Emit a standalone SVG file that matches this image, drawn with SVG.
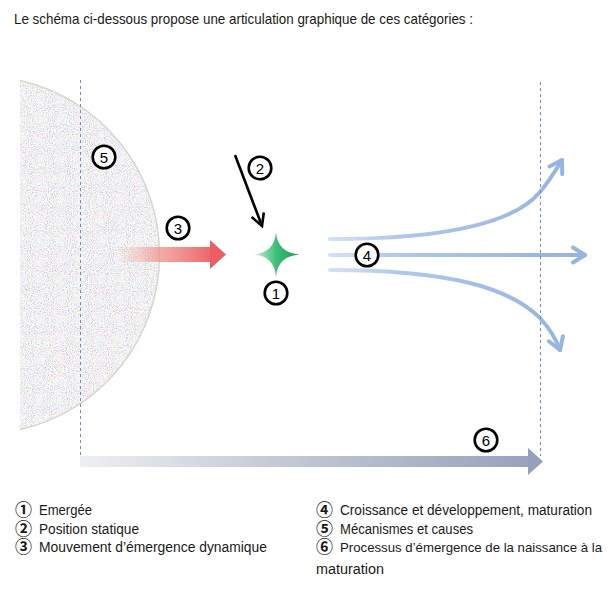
<svg xmlns="http://www.w3.org/2000/svg" width="615" height="594" viewBox="0 0 615 594">
<style>
  .t { font-family: "Liberation Sans", Arial, sans-serif; fill: #1a1a1a; }
  .hd { font-size: 14.4px; }
  .lg { font-size: 14px; }
  .sm { font-size: 13.4px; }
  .cd { font-family: "Noto Sans CJK JP", "DejaVu Sans", sans-serif; font-size: 17px; font-weight: 700; fill: #1a1a1a; }
  .num circle { fill: #ffffff; stroke: #000000; stroke-width: 2.6; }
  .num text { font-family: "Liberation Sans", Arial, sans-serif; font-size: 15px; fill: #000; text-anchor: middle; }
  .dash { stroke: #6f8fc4; stroke-width: 1; stroke-dasharray: 3 3; fill: none; }
  .blue { fill: none; stroke: url(#gBlue); stroke-width: 4; stroke-linecap: round; }
</style>
<defs>
  <filter id="noise" x="0" y="0" width="100%" height="100%">
    <feTurbulence type="fractalNoise" baseFrequency="0.95" numOctaves="2" seed="7" result="t"/>
    <feColorMatrix in="t" type="matrix" values="1.3 0 0 0 0.24  0 1.3 0 0 0.23  0 0 1.3 0 0.26  0 0 0 0 1" result="c"/>
    <feComposite in="c" in2="SourceGraphic" operator="in" result="m"/>
    <feMerge><feMergeNode in="SourceGraphic"/><feMergeNode in="m"/></feMerge>
  </filter>
  <linearGradient id="gRed" gradientUnits="userSpaceOnUse" x1="116" y1="0" x2="215" y2="0">
    <stop offset="0" stop-color="#f2a890" stop-opacity="0"/>
    <stop offset="0.45" stop-color="#ee8f88" stop-opacity="0.75"/>
    <stop offset="1" stop-color="#ea5f66"/>
  </linearGradient>
  <linearGradient id="gGreen" gradientUnits="userSpaceOnUse" x1="253" y1="0" x2="300" y2="0">
    <stop offset="0" stop-color="#d4f0df"/>
    <stop offset="0.5" stop-color="#3dbd78"/>
    <stop offset="1" stop-color="#14a055"/>
  </linearGradient>
  <linearGradient id="gBlue" gradientUnits="userSpaceOnUse" x1="330" y1="0" x2="560" y2="0">
    <stop offset="0" stop-color="#c0d4ef" stop-opacity="0.7"/>
    <stop offset="0.3" stop-color="#afc7ec"/>
    <stop offset="1" stop-color="#97b5e3"/>
  </linearGradient>
  <linearGradient id="gGrey" gradientUnits="userSpaceOnUse" x1="80" y1="0" x2="543" y2="0">
    <stop offset="0" stop-color="#eeeff2"/>
    <stop offset="0.4" stop-color="#c6cbd7"/>
    <stop offset="1" stop-color="#96a0bb"/>
  </linearGradient>
  <marker id="mBlack" markerUnits="userSpaceOnUse" markerWidth="20" markerHeight="20" viewBox="-14 -10 20 20" refX="0" refY="0" orient="auto">
    <path d="M-12,-6.5 L0,0 L-12,6.5" fill="none" stroke="#000" stroke-width="2.6" stroke-linejoin="miter"/>
  </marker>
  <marker id="mBlue" markerUnits="userSpaceOnUse" markerWidth="24" markerHeight="24" viewBox="-16 -12 24 24" refX="0" refY="0" orient="auto">
    <path d="M-12,-7.5 L0,0 L-12,7.5" fill="none" stroke="#97b5e3" stroke-width="4" stroke-linecap="round" stroke-linejoin="round"/>
  </marker>
</defs>

<rect width="615" height="594" fill="#ffffff"/>

<text class="t hd" x="14" y="24" textLength="459" lengthAdjust="spacingAndGlyphs">Le schéma ci-dessous propose une articulation graphique de ces catégories :</text>

<g id="disk">
  <path d="M20,80.4 A179,179 0 0 1 20,429.6 Z" fill="#e4e4e7" filter="url(#noise)"/>
  <path d="M20,80.4 A179,179 0 0 1 20,429.6" fill="none" stroke="#d8d8cf" stroke-width="1.5"/>
</g>

<g id="connectors">
  <g id="arrow3">
    <rect x="116" y="247" width="95" height="15" fill="url(#gRed)"/>
    <polygon points="210,240 226,254.5 210,269" fill="#ea5f66"/>
  </g>
  <line id="arrow2" x1="235" y1="155" x2="262" y2="226" stroke="#000" stroke-width="2.6" marker-end="url(#mBlack)"/>
  <g id="arrows4">
    <path class="blue" d="M330,239 C450,239 515,222 540,192 C550,180 556,170 562,160" marker-end="url(#mBlue)"/>
    <path class="blue" d="M330,255 L585,255" marker-end="url(#mBlue)"/>
    <path class="blue" d="M330,270 C450,270 510,288 540,318 C550,329 556,339 560,350" marker-end="url(#mBlue)"/>
  </g>
  <g id="arrow6">
    <rect x="80" y="456" width="449" height="11" fill="url(#gGrey)"/>
    <polygon points="528,448 543,461.5 528,475" fill="#96a0bb"/>
  </g>
  <line class="dash" x1="80.5" y1="80" x2="80.5" y2="456"/>
  <line class="dash" x1="540.5" y1="82" x2="540.5" y2="456"/>
</g>

<g id="star1">
  <path d="M276,232 Q277.5,253 300,254.5 Q277.5,256 276,277 Q274.5,256 253,254.5 Q274.5,253 276,232 Z" fill="url(#gGreen)"/>
</g>

<g id="n5" class="num"><circle cx="104" cy="157" r="11.3"/><text x="104" y="162.5">5</text></g>
<g id="n3" class="num"><circle cx="178" cy="228" r="11.3"/><text x="178" y="233.5">3</text></g>
<g id="n2" class="num"><circle cx="260" cy="168" r="11.3"/><text x="260" y="173.5">2</text></g>
<g id="n1" class="num"><circle cx="276" cy="293" r="11.3"/><text x="276" y="298.5">1</text></g>
<g id="n4" class="num"><circle cx="367" cy="255" r="11.3"/><text x="367" y="260.5">4</text></g>
<g id="n6" class="num"><circle cx="486" cy="440" r="11.3"/><text x="486" y="445.5">6</text></g>

<g id="legend">
  <text class="cd" x="15" y="516">①</text>
  <text class="t lg" x="39" y="515" textLength="53" lengthAdjust="spacingAndGlyphs">Emergée</text>
  <text class="cd" x="15" y="534.5">②</text>
  <text class="t lg" x="39" y="533.5" textLength="100" lengthAdjust="spacingAndGlyphs">Position statique</text>
  <text class="cd" x="15" y="553">③</text>
  <text class="t lg" x="39" y="552" textLength="228" lengthAdjust="spacingAndGlyphs">Mouvement d’émergence dynamique</text>
  <text class="cd" x="316" y="516">④</text>
  <text class="t lg" x="340" y="515" textLength="252" lengthAdjust="spacingAndGlyphs">Croissance et développement, maturation</text>
  <text class="cd" x="316" y="534.5">⑤</text>
  <text class="t lg" x="340" y="533.5" textLength="133" lengthAdjust="spacingAndGlyphs">Mécanismes et causes</text>
  <text class="cd" x="316" y="553">⑥</text>
  <text class="t sm" x="340" y="552" textLength="262" lengthAdjust="spacingAndGlyphs">Processus d’émergence de la naissance à la</text>
  <text class="t lg" x="316" y="574" textLength="68" lengthAdjust="spacingAndGlyphs">maturation</text>
</g>
</svg>
